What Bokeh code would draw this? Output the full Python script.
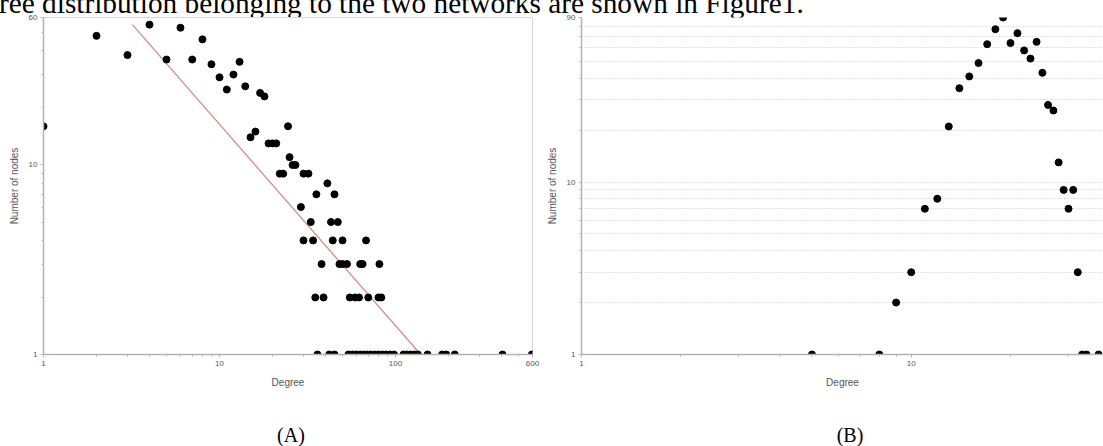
from bokeh.plotting import figure
from bokeh.layouts import row, column
from bokeh.models import Div, FixedTicker, Grid, NumeralTickFormatter
from bokeh.embed import file_html
from bokeh.resources import INLINE

# ---------------- data ----------------
# Panel A: degree distribution, network 1
a_degree = [1, 2, 3, 4, 5, 6, 7, 8, 9, 10, 11, 12, 13, 14, 15, 16, 17, 18,
            19, 20, 21, 24.5, 25, 26, 27,
            22, 23, 30, 32, 41, 35.5, 45, 29,
            33, 43, 47,
            30, 34, 44, 50, 68,
            38, 48, 50, 53, 63, 65, 81,
            35, 39, 55, 59, 62, 70, 80, 83,
            36, 42, 45, 54, 57, 60, 63, 66, 69, 72, 76, 80, 84, 88, 93, 98,
            111, 116, 122, 128, 134, 152, 184, 194, 217, 405, 595]
a_nodes = [16, 48, 38, 55, 36, 53, 36, 46, 34, 29, 25, 30, 35, 26, 14, 15, 24, 23,
           13, 13, 13, 16, 11, 10, 10,
           9, 9, 9, 9, 8, 7, 7, 6,
           5, 5, 5,
           4, 4, 4, 4, 4,
           3, 3, 3, 3, 3, 3, 3,
           2, 2, 2, 2, 2, 2, 2, 2,
           1, 1, 1, 1, 1, 1, 1, 1, 1, 1, 1, 1, 1, 1, 1, 1,
           1, 1, 1, 1, 1, 1, 1, 1, 1, 1, 1]
# fitted power-law line (end points)
a_fit_degree = [3.2, 139]
a_fit_nodes = [55, 1]

# Panel B: degree distribution, network 2
b_degree = [5, 8, 9, 10, 11, 12, 13, 14, 15, 16, 17, 18, 19, 20, 21, 22, 23,
            24, 25, 26, 27, 28, 29, 30, 31, 32, 33, 34, 37]
b_nodes = [1, 1, 2, 3, 7, 8, 21, 35, 41, 49, 63, 77, 90, 64, 73, 58, 52,
           65, 43, 28, 26, 13, 9, 7, 9, 3, 1, 1, 1]

# axes / ticks
a_x_ticks = [1, 10, 100, 600]
a_y_ticks = [1, 10, 60]
b_x_ticks = [1, 10, 100]
b_y_ticks = [1, 10, 90]
minor_mult = [2, 3, 4, 5, 6, 7, 8, 9]

top_text = "ree distribution belonging to the two networks are shown in Figure1."
cap_a = "(A)"
cap_b = "(B)"

AXIS_COL = "#b3b3b3"
LABEL_COL = "#555555"


def minors(lo, hi):
    out = []
    for e in range(0, 4):
        for m in minor_mult:
            v = m * 10 ** e
            if lo < v < hi:
                out.append(v)
    return out


def style(p, xt, yt, xmax, ymax):
    p.xaxis.ticker = FixedTicker(ticks=xt, minor_ticks=minors(1, xmax))
    p.yaxis.ticker = FixedTicker(ticks=yt, minor_ticks=minors(1, ymax))
    for ax in (p.xaxis[0], p.yaxis[0]):
        ax.formatter = NumeralTickFormatter(format="0")
        ax.axis_line_color = AXIS_COL
        ax.axis_line_width = 1.5
        ax.major_tick_line_color = AXIS_COL
        ax.minor_tick_line_color = AXIS_COL
        ax.major_tick_in = 0
        ax.major_tick_out = 3
        ax.minor_tick_in = 0
        ax.minor_tick_out = 2
        ax.major_label_text_font = "Liberation Sans"
        ax.major_label_text_font_size = "8px"
        ax.major_label_text_color = LABEL_COL
        ax.major_label_standoff = 3
        ax.axis_label_text_font = "Liberation Sans"
        ax.axis_label_text_font_size = "10px"
        ax.axis_label_text_font_style = "normal"
        ax.axis_label_text_color = LABEL_COL
    p.xaxis.axis_label = "Degree"
    p.yaxis.axis_label = "Number of nodes"
    p.xaxis.axis_label_standoff = 8
    p.yaxis.axis_label_standoff = 6


# ---------------- panel A ----------------
pA = figure(x_axis_type="log", y_axis_type="log",
            x_range=(1, 600), y_range=(1, 60),
            frame_width=489, frame_height=337,
            min_border_left=43, min_border_right=9,
            min_border_top=7, min_border_bottom=46,
            output_backend="svg", toolbar_location=None,
            background_fill_color="white", border_fill_color=None,
            outline_line_color="#d6d6d6")
pA.xgrid.visible = False
pA.ygrid.visible = False
style(pA, a_x_ticks, a_y_ticks, 600, 60)
pA.line(a_fit_degree, a_fit_nodes, line_color="#d08f8c", line_width=1.3)
pA.scatter(a_degree, a_nodes, size=7, color="black")

# ---------------- panel B ----------------
pB = figure(x_axis_type="log", y_axis_type="log",
            x_range=(1, 38.3), y_range=(1, 90),
            frame_width=522, frame_height=337,
            min_border_left=40, min_border_right=0,
            min_border_top=7, min_border_bottom=46,
            output_backend="svg", toolbar_location=None,
            background_fill_color="white", border_fill_color=None,
            outline_line_color=None)
pB.xgrid.visible = False
style(pB, b_x_ticks, b_y_ticks, 100, 90)
pB.ygrid.ticker = FixedTicker(ticks=minors(1, 90) + [10])
pB.ygrid.grid_line_color = "#c4c4c4"
pB.ygrid.grid_line_dash = "1 2"
pB.ygrid.grid_line_width = 1
top_grid = Grid(dimension=1, ticker=FixedTicker(ticks=[90]),
                grid_line_color="#c4c4c4", grid_line_width=1.5)
pB.add_layout(top_grid, "center")
pB.scatter(b_degree, b_nodes, size=7, color="black")

# ---------------- texts ----------------
top_div = Div(
    text=('<div style="font-family:\'Liberation Serif\';font-size:29.3px;line-height:29px;'
          'white-space:nowrap;margin-top:-11px;margin-left:-1px;color:#000;">'
          + top_text + '</div>'),
    width=1103, height=10, margin=0, styles={"overflow": "visible"})

cap_div = Div(
    text=('<div style="position:relative;width:1103px;height:46px;'
          'font-family:\'Liberation Serif\';font-size:20px;line-height:20px;color:#000;">'
          '<span style="position:absolute;left:291px;top:25px;transform:translateX(-50%);">'
          + cap_a + '</span>'
          '<span style="position:absolute;left:850px;top:25px;transform:translateX(-50%);">'
          + cap_b + '</span></div>'),
    width=1103, height=46, margin=0, styles={"overflow": "visible"})

layout = column(top_div, row(pA, pB, spacing=0), cap_div, spacing=0)

open("out.html", "w").write(file_html(layout, INLINE))
